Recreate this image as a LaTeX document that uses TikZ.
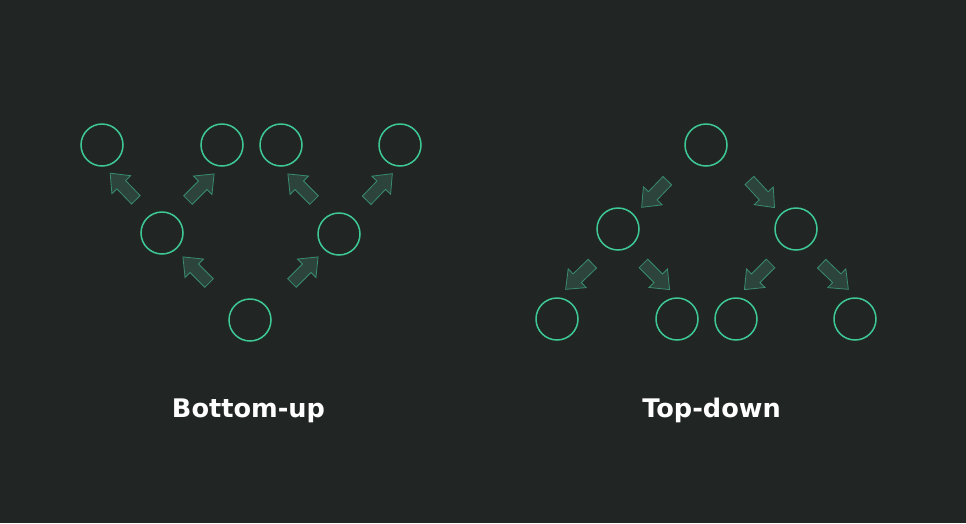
\documentclass[tikz,border=0pt]{standalone}
\usepackage{fontspec}
\setmainfont{DejaVu Sans}
\usetikzlibrary{calc}
\definecolor{bg}{RGB}{33,38,36}
\definecolor{ring}{RGB}{62,200,150}
\definecolor{afill}{RGB}{44,68,60}
\definecolor{aline}{RGB}{58,140,110}
\tikzset{
  ringnode/.style={circle,draw=ring,line width=1.5pt,minimum size=42pt,inner sep=0pt},
  arrowsty/.style={fill=afill,draw=aline,line width=0.8pt,line join=miter},
  pics/barrow/.style={code={\draw[arrowsty] (-18.5,-6) -- (2.5,-6) -- (2.5,-13) -- (18.5,0) -- (2.5,13) -- (2.5,6) -- (-18.5,6) -- cycle;}},
  label/.style={text=white,font=\bfseries\fontsize{25.6pt}{30pt}\selectfont,anchor=base}
}
\newcommand{\barr}[2]{\path let \p1=($(#2)-(#1)$), \n1={atan2(\y1,\x1)} in pic[rotate=\n1] at ($(#1)!0.5!(#2)$) {barrow};}
\begin{document}
\begin{tikzpicture}[x=1pt,y=-1pt]
\fill[bg] (0,0) rectangle (966,523);
\useasboundingbox (0,0) rectangle (966,523);
% Bottom-up
\node[ringnode] (l1) at (102,145) {};
\node[ringnode] (l2) at (222,145) {};
\node[ringnode] (l3) at (281,145) {};
\node[ringnode] (l4) at (400,145) {};
\node[ringnode] (lm1) at (162,233) {};
\node[ringnode] (lm2) at (339,234) {};
\node[ringnode] (lb) at (250,320) {};
\coordinate (a1s) at (136,200); \coordinate (a1e) at (110,173);
\coordinate (a2s) at (188,200); \coordinate (a2e) at (214,174);
\coordinate (a3s) at (314,200); \coordinate (a3e) at (288,174);
\coordinate (a4s) at (367,200); \coordinate (a4e) at (392,174);
\coordinate (a5s) at (209,283); \coordinate (a5e) at (183,257);
\coordinate (a6s) at (292,283); \coordinate (a6e) at (318,257);
\barr{a1s}{a1e}
\barr{a2s}{a2e}
\barr{a3s}{a3e}
\barr{a4s}{a4e}
\barr{a5s}{a5e}
\barr{a6s}{a6e}
\node[label] (tbu) at (248.5,417) {Bottom-up};
% Top-down
\node[ringnode] (rt) at (706,145) {};
\node[ringnode] (rm1) at (618,229) {};
\node[ringnode] (rm2) at (796,229) {};
\node[ringnode] (r1) at (557,319) {};
\node[ringnode] (r2) at (677,319) {};
\node[ringnode] (r3) at (736,319) {};
\node[ringnode] (r4) at (855,319) {};
\coordinate (b1s) at (667,181); \coordinate (b1e) at (642,207);
\coordinate (b2s) at (750,181); \coordinate (b2e) at (774,207);
\coordinate (b0s) at (592,264); \coordinate (b0e) at (566,289);
\coordinate (b3s) at (644,264); \coordinate (b3e) at (669,289);
\coordinate (b4s) at (770,264); \coordinate (b4e) at (745,289);
\coordinate (b5s) at (822,264); \coordinate (b5e) at (848,289);
\barr{b1s}{b1e}
\barr{b2s}{b2e}
\barr{b0s}{b0e}
\barr{b3s}{b3e}
\barr{b4s}{b4e}
\barr{b5s}{b5e}
\node[label] (ttd) at (711.5,417) {Top-down};
\end{tikzpicture}
\end{document}
